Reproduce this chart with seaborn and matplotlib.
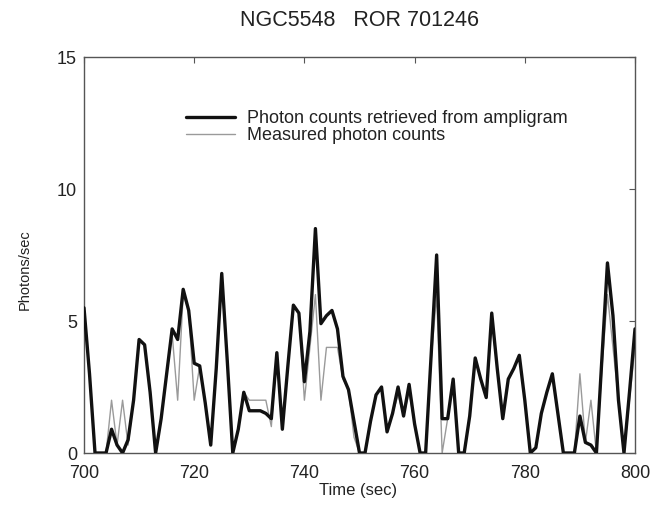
import numpy as np
import pandas as pd
import matplotlib
matplotlib.use("Agg")
import matplotlib.pyplot as plt
import seaborn as sns

# ---- data ----
time_sec = list(range(700, 801))

retrieved = [
    5.5, 3.0, 0.0, 0.0, 0.0, 0.9, 0.3, 0.0, 0.5, 2.0,
    4.3, 4.1, 2.3, 0.0, 1.3, 3.0, 4.7, 4.3, 6.2, 5.4,
    3.4, 3.3, 1.9, 0.3, 3.2, 6.8, 3.5, 0.0, 0.9, 2.3,
    1.6, 1.6, 1.6, 1.5, 1.3, 3.8, 0.9, 3.3, 5.6, 5.3,
    2.7, 4.6, 8.5, 4.9, 5.2, 5.4, 4.7, 2.9, 2.4, 1.2,
    0.0, 0.0, 1.2, 2.2, 2.5, 0.8, 1.5, 2.5, 1.4, 2.6,
    1.1, 0.0, 0.0, 3.7, 7.5, 1.3, 1.3, 2.8, 0.0, 0.0,
    1.4, 3.6, 2.8, 2.1, 5.3, 3.2, 1.3, 2.8, 3.2, 3.7,
    2.0, 0.0, 0.2, 1.5, 2.3, 3.0, 1.5, 0.0, 0.0, 0.0,
    1.4, 0.4, 0.3, 0.0, 3.6, 7.2, 5.2, 2.0, 0.0, 2.3,
    4.7,
]

measured = [
    5.5, 3.0, 0.0, 0.0, 0.0, 2.0, 0.3, 2.0, 0.3, 2.0,
    4.3, 4.1, 2.3, 0.0, 1.3, 3.0, 4.5, 2.0, 6.0, 5.4,
    2.0, 3.3, 1.9, 0.3, 3.2, 6.5, 3.5, 0.0, 0.9, 2.3,
    2.0, 2.0, 2.0, 2.0, 1.0, 3.8, 0.9, 3.3, 5.6, 5.3,
    2.0, 4.0, 6.0, 2.0, 4.0, 4.0, 4.0, 2.8, 2.4, 0.6,
    0.0, 0.0, 1.2, 2.2, 2.5, 0.8, 1.5, 2.2, 1.4, 2.3,
    1.1, 0.0, 0.0, 3.5, 6.0, 0.0, 1.3, 2.8, 0.0, 0.0,
    1.4, 3.6, 2.8, 2.1, 5.0, 3.2, 1.3, 2.8, 3.2, 3.7,
    2.0, 0.0, 0.2, 1.5, 2.3, 3.0, 1.5, 0.0, 0.0, 0.0,
    3.0, 0.4, 2.0, 0.0, 3.2, 6.0, 4.0, 2.0, 0.0, 2.0,
    4.0,
]

x_ticks = [700, 720, 740, 760, 780, 800]
y_ticks = [0, 5, 10, 15]
label_retrieved = "Photon counts retrieved from ampligram"
label_measured = "Measured photon counts"
title_text = "NGC5548   ROR 701246"

# ---- style ----
sns.set_theme(style="white")
plt.rcParams["font.family"] = ["Liberation Sans", "DejaVu Sans"]

W, H = 664, 532
fig = plt.figure(figsize=(W / 100, H / 100), dpi=100)
ax = fig.add_axes([84 / W, 79 / H, 551 / W, 396 / H])

df = pd.DataFrame({"t": time_sec, "retrieved": retrieved, "measured": measured})

sns.lineplot(data=df, x="t", y="retrieved", color="#111111", linewidth=2.4,
             ax=ax, label=label_retrieved, zorder=3)
sns.lineplot(data=df, x="t", y="measured", color="#9a9a9a", linewidth=1.0,
             ax=ax, label=label_measured, zorder=2)

ax.set_xlim(700, 800)
ax.set_ylim(0, 15)
ax.set_xticks(x_ticks)
ax.set_yticks(y_ticks)
ax.set_xlabel("")
ax.set_ylabel("")
ax.tick_params(direction="in", top=True, right=True, length=4, width=0.8,
               color="#555555", labelsize=13, labelcolor="#222222")
ax.tick_params(axis="x", pad=9)
ax.tick_params(axis="y", pad=5)
for sp in ax.spines.values():
    sp.set_color("#555555")
    sp.set_linewidth(1.0)

leg = ax.legend(loc="upper left", bbox_to_anchor=(186 / W, 1 - 110 / H),
                bbox_transform=fig.transFigure, frameon=False, fontsize=13,
                handlelength=2.7, handletextpad=0.7, labelspacing=0.0,
                borderpad=0, borderaxespad=0)
for t in leg.get_texts():
    t.set_color("#222222")

fig.text(360 / W, 1 - 21 / H, title_text, ha="center", va="center",
         fontsize=15.5, color="#222222")
fig.text(25 / W, 1 - 270 / H, "Photons/sec", rotation=90, ha="center",
         va="center", fontsize=10.5, color="#222222")
fig.text(358 / W, 1 - 490 / H, "Time (sec)", ha="center", va="center",
         fontsize=12, color="#222222")

fig.savefig("out.png", dpi=100, facecolor="white")
